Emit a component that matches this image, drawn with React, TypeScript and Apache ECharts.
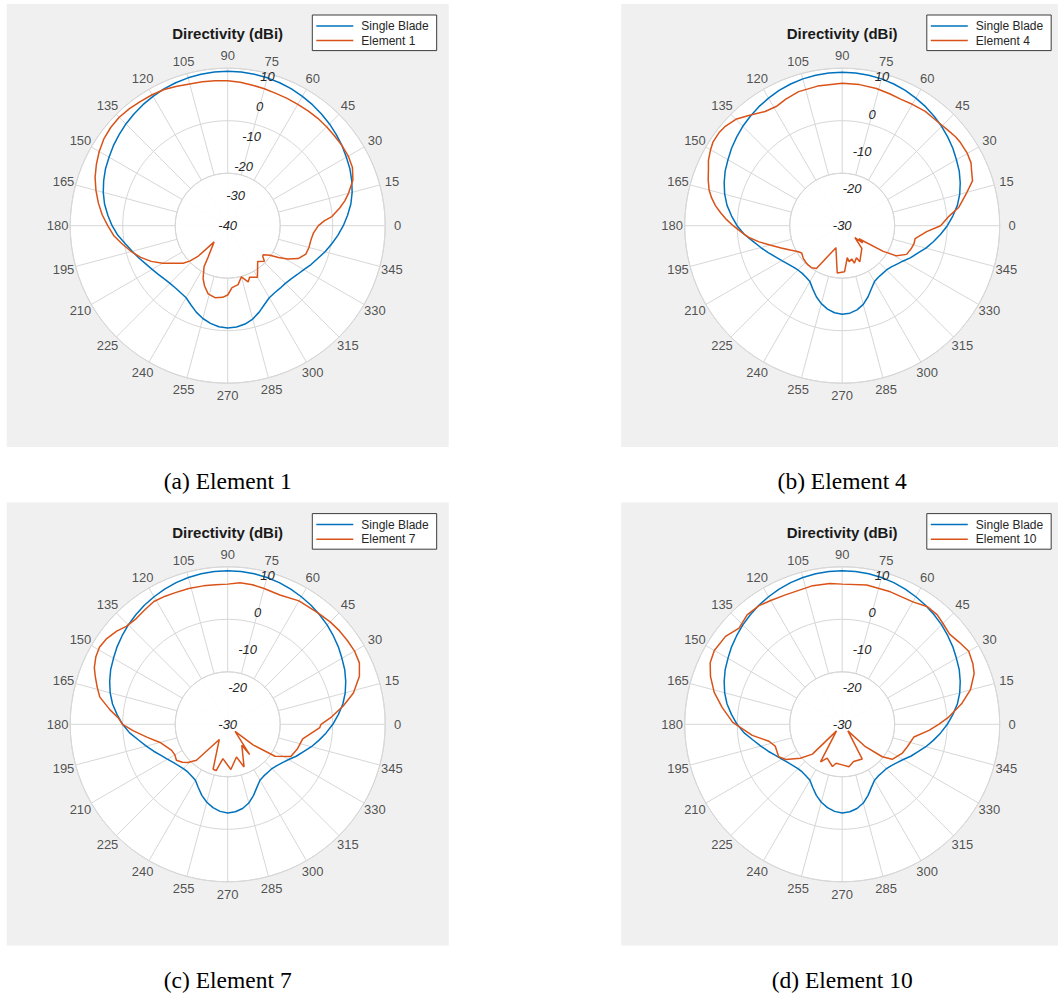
import React, { useEffect, useRef } from "react";
import * as echarts from "echarts";

// ---------- DATA ----------
const angleTicks = [0, 15, 30, 45, 60, 75, 90, 105, 120, 135, 150, 165, 180, 195, 210, 225, 240, 255, 270, 285, 300, 315, 330, 345];

const singleBladeAngles = [0, 5, 10, 15, 20, 25, 30, 35, 40, 45, 50, 55, 60, 65, 70, 75, 80, 85, 90, 95, 100, 105, 110, 115, 120, 125, 130, 135, 140, 145, 150, 155, 160, 165, 170, 175, 180, 185, 190, 195, 200, 205, 210, 215, 220, 225, 230, 235, 240, 245, 250, 255, 260, 265, 270, 275, 280, 285, 290, 295, 300, 305, 310, 315, 320, 325, 330, 335, 340, 345, 350, 355, 360];
const singleBladeDb = [-3.3, -1.8, -0.3, 0.9, 1.9, 2.8, 3.5, 4.3, 5.0, 5.7, 6.3, 6.9, 7.4, 7.9, 8.3, 8.6, 8.8, 8.95, 9.0, 8.95, 8.8, 8.6, 8.3, 7.9, 7.4, 6.9, 6.3, 5.7, 5.0, 4.3, 3.5, 2.8, 1.9, 0.9, -0.3, -1.8, -3.3, -5.0, -7.0, -8.6, -10.0, -11.3, -12.3, -13.1, -13.7, -14.1, -14.2, -14.0, -13.6, -12.3, -10.8, -9.5, -8.5, -7.8, -7.5, -7.7, -8.3, -9.3, -10.8, -12.4, -13.6, -14.0, -14.1, -14.1, -13.7, -13.0, -12.1, -10.8, -9.6, -8.0, -6.5, -4.9, -3.3];

const element1Angles = [0, 3, 5, 9, 12, 15, 20, 25, 30, 35, 40, 45, 50, 55, 60, 65, 70, 75, 80, 85, 90, 95, 100, 105, 110, 115, 120, 125, 130, 135, 140, 145, 150, 155, 160, 165, 170, 175, 180, 185, 190, 195, 200, 205, 210, 215, 220, 223, 226, 230, 238, 240, 245, 249, 254, 260, 266, 270, 274, 280, 285, 290, 293, 300, 310, 316, 319, 321, 325, 328, 331, 335, 340, 345, 350, 355, 360];
const element1Db = [-11.2, -9.2, -6.8, -4.0, -2.0, -0.3, 2.3, 3.7, 4.2, 4.3, 4.3, 4.4, 4.5, 4.5, 4.5, 4.6, 4.7, 5.0, 5.3, 5.7, 6.0, 6.2, 6.4, 6.6, 7.1, 7.7, 8.0, 8.2, 8.5, 8.7, 8.5, 8.0, 7.1, 6.0, 4.8, 3.3, 1.7, 0.0, -1.9, -3.7, -6.1, -8.3, -10.6, -13.2, -16.2, -19.2, -21.5, -23.5, -26.6, -33.3, -28.3, -25.0, -21.5, -19.5, -17.5, -16.8, -17.2, -18.0, -20.3, -21.0, -23.2, -21.0, -22.2, -21.1, -25.2, -23.8, -25.3, -25.4, -23.6, -21.0, -18.2, -15.3, -13.6, -13.3, -13.2, -12.7, -11.2];

const element4Angles = [0, 5, 9, 15, 19, 23, 26, 30, 35, 38, 42, 46, 50, 54, 60, 65, 70, 76, 83, 90, 100, 108, 114, 119, 124, 130, 135, 140, 143, 147, 150, 154, 157, 161, 165, 168, 171, 174, 177, 180, 184, 187, 191, 195, 200, 205, 210, 214, 220, 225, 229, 234, 239, 254, 264, 273, 279, 281, 286, 288, 294, 296, 311, 317, 320, 322, 328, 331, 336, 342, 346, 350, 356, 360];
const element4Db = [-5.0, -2.8, 0.0, 2.8, 5.0, 5.7, 6.4, 6.7, 6.7, 6.6, 6.2, 5.9, 5.8, 5.9, 5.6, 5.4, 5.6, 5.9, 6.1, 6.2, 6.0, 5.8, 5.2, 4.6, 5.0, 6.6, 8.2, 9.0, 9.2, 9.1, 8.6, 7.8, 6.9, 6.0, 5.0, 3.9, 2.6, 1.0, -0.6, -2.3, -4.5, -6.0, -8.5, -11.0, -13.5, -15.4, -16.9, -17.6, -17.1, -16.9, -16.8, -16.8, -17.3, -24.2, -17.9, -18.3, -21.8, -20.7, -21.2, -20.0, -21.1, -19.8, -22.4, -25.6, -23.2, -24.6, -17.7, -14.2, -12.1, -11.5, -11.2, -11.2, -8.5, -5.0];

const element7Angles = [0, 4, 9, 14, 20, 25, 30, 35, 40, 45, 51, 60, 68, 75, 80, 85, 90, 95, 100, 106, 112, 116, 121, 126, 131, 136, 140, 145, 149, 153, 157, 160, 164, 168, 173, 177, 180, 184, 189, 195, 200, 205, 210, 215, 220, 224, 229, 241, 252, 256, 262, 274, 285, 291, 304, 306, 316, 321, 326, 333, 341, 349, 358, 360];
const element7Db = [-6.3, -3.6, -0.3, 2.9, 5.6, 6.9, 7.2, 7.1, 7.0, 6.8, 6.4, 6.2, 5.4, 5.7, 6.0, 6.1, 5.6, 5.6, 5.7, 5.9, 6.0, 6.2, 6.4, 5.9, 5.5, 5.8, 6.8, 7.7, 8.0, 7.6, 6.8, 5.8, 4.5, 3.2, 0.1, -2.3, -3.3, -6.0, -9.2, -12.2, -13.4, -14.3, -14.5, -14.1, -15.0, -16.0, -17.9, -25.6, -18.0, -17.9, -21.2, -18.5, -21.4, -18.4, -23.6, -20.5, -27.4, -21.6, -15.5, -12.0, -11.2, -10.6, -6.6, -6.3];

const element10Angles = [0, 4, 10, 15, 21, 25, 30, 35, 40, 45, 49, 54, 60, 70, 80, 90, 95, 102, 114, 120, 125, 131, 137, 143, 150, 155, 160, 166, 172, 179, 187, 193, 198, 207, 212, 219, 225, 229, 240, 246, 257, 261, 270, 279, 287, 300, 311, 316, 321, 325, 334, 341, 350, 356, 360];
const element10Db = [-5.5, -2.8, 0.9, 3.7, 5.9, 6.6, 7.1, 6.3, 5.6, 6.2, 6.8, 6.9, 5.9, 5.8, 5.9, 5.6, 5.9, 6.0, 5.9, 6.3, 6.8, 6.8, 5.8, 7.1, 7.5, 7.0, 5.6, 3.5, 0.8, -2.2, -7.0, -10.9, -12.1, -11.9, -13.1, -16.3, -19.3, -27.8, -19.0, -20.6, -19.0, -20.0, -19.7, -19.1, -20.1, -19.8, -27.8, -21.8, -16.9, -14.5, -13.1, -12.5, -11.5, -7.9, -5.5];

const panelNames = ["Element 1", "Element 4", "Element 7", "Element 10"];
const panelCaptions = ["(a) Element 1", "(b) Element 4", "(c) Element 7", "(d) Element 10"];
const panelMinDb = [-40, -30, -30, -30];
const maxDb = 10;
const magTickStep = 10;
const titleText = "Directivity (dBi)";
const singleBladeName = "Single Blade";

// ---------- LAYOUT / STYLE ----------
const layout = [
  { cx: 227.7, cy: 225.7 },
  { cx: 842.2, cy: 225.7 },
  { cx: 227.7, cy: 724.3 },
  { cx: 842.2, cy: 724.3 },
];
const elementSeries = [
  { angles: element1Angles, db: element1Db },
  { angles: element4Angles, db: element4Db },
  { angles: element7Angles, db: element7Db },
  { angles: element10Angles, db: element10Db },
];

const R_OUT = 157.5;
const R_IN = 52.5;
const R_MAG = 154;
const R_ANG = 170;
const BLUE = "#0072BD";
const ORANGE = "#D95319";
const GRID = "#d7d7d7";
const TXT = "#262626";
const PANEL_BG = "#f0f0f0";
const SANS = '"Liberation Sans", Arial, Helvetica, sans-serif';
const SERIF = '"Liberation Serif", "Times New Roman", Times, serif';
const LINE_ICON = "path://M0,0H37V1.5H0Z";

function buildOption() {
  const polar: any[] = [];
  const angleAxis: any[] = [];
  const radiusAxis: any[] = [];
  const series: any[] = [];
  const legend: any[] = [];
  const graphics: any[] = [];

  layout.forEach((p, i) => {
    const base = i * 4;
    const center = [p.cx, p.cy];
    const el = elementSeries[i];

    // 0: data polar (white disk + curves)
    polar.push({ center, radius: R_OUT });
    angleAxis.push({
      polarIndex: base, type: "value", min: 0, max: 360, startAngle: 0, clockwise: false, z: 0,
      axisLine: { show: false }, axisTick: { show: false }, axisLabel: { show: false },
      splitLine: { show: false },
      splitArea: { show: true, areaStyle: { color: ["#ffffff", "#ffffff"] } },
    });
    radiusAxis.push({ polarIndex: base, type: "value", min: panelMinDb[i], max: maxDb, show: false });

    // 1: grid polar
    polar.push({ center, radius: [R_IN, R_OUT] });
    angleAxis.push({
      polarIndex: base + 1, type: "value", min: 0, max: 360, interval: 15, startAngle: 0, clockwise: false, z: 1,
      axisLine: { show: true, lineStyle: { color: GRID, width: 1 } },
      axisTick: { show: false }, axisLabel: { show: false },
      splitLine: { show: true, lineStyle: { color: GRID, width: 1 } },
    });
    radiusAxis.push({
      polarIndex: base + 1, type: "value", min: 0, max: 2, interval: 1, z: 1,
      axisLine: { show: false }, axisTick: { show: false }, axisLabel: { show: false },
      splitLine: { show: true, lineStyle: { color: GRID, width: 1 } },
    });

    // 2: magnitude labels polar (axis drawn along 75 deg)
    polar.push({ center, radius: R_MAG });
    angleAxis.push({ polarIndex: base + 2, type: "value", min: 0, max: 360, startAngle: 75, clockwise: false, show: false });
    radiusAxis.push({
      polarIndex: base + 2, type: "value", min: panelMinDb[i], max: maxDb, interval: magTickStep, z: 5,
      axisLine: { show: false }, axisTick: { show: false }, splitLine: { show: false },
      axisLabel: {
        show: true, margin: 0, align: "center", verticalAlign: "middle", rotate: 0,
        fontStyle: "italic", fontSize: 13, color: TXT, fontFamily: SANS,
        showMinLabel: true, showMaxLabel: true,
      },
    });

    // 3: angle labels polar
    polar.push({ center, radius: R_ANG });
    angleAxis.push({ polarIndex: base + 3, type: "value", min: 0, max: 360, startAngle: 0, clockwise: false, show: false });
    radiusAxis.push({ polarIndex: base + 3, type: "value", min: 0, max: 1, show: false });

    series.push({
      type: "line", name: singleBladeName, coordinateSystem: "polar", polarIndex: base,
      data: singleBladeAngles.map((a, k) => [singleBladeDb[k], a]),
      symbol: "none", showSymbol: false, smooth: false, z: 3,
      lineStyle: { color: BLUE, width: 1.5 }, itemStyle: { color: BLUE },
      silent: true,
    });
    series.push({
      type: "line", name: panelNames[i], coordinateSystem: "polar", polarIndex: base,
      data: el.angles.map((a, k) => [el.db[k], a]),
      symbol: "none", showSymbol: false, smooth: false, z: 3,
      lineStyle: { color: ORANGE, width: 1.5 }, itemStyle: { color: ORANGE },
      silent: true,
    });
    series.push({
      type: "scatter", coordinateSystem: "polar", polarIndex: base + 3,
      data: angleTicks.map((a) => [1, a]),
      symbolSize: 1, itemStyle: { color: "transparent" }, silent: true, clip: false, z: 5,
      label: {
        show: true, position: "inside", color: TXT, fontSize: 13, fontFamily: SANS,
        formatter: (q: any) => String(q.value[1]),
      },
    });

    legend.push({
      orient: "vertical", left: p.cx + 84.6, top: p.cy - 210.7,
      data: [
        { name: singleBladeName, icon: LINE_ICON },
        { name: panelNames[i], icon: LINE_ICON },
      ],
      selectedMode: false, symbolKeepAspect: true,
      backgroundColor: "#ffffff", borderColor: "#3c3c3c", borderWidth: 1,
      padding: [5, 8, 4, 4], itemGap: 2.6, itemWidth: 37, itemHeight: 14,
      textStyle: { fontSize: 12, color: TXT, fontFamily: SANS, padding: [0, 0, 0, 3] },
    });

    const bx = p.cx - 221;
    graphics.push({
      type: "rect", z: -10, silent: true,
      shape: { x: bx, y: p.cy - 221.7, width: Math.min(442, 1058 - bx), height: 443 },
      style: { fill: PANEL_BG },
    });
    graphics.push({
      type: "text", z: 10, silent: true,
      style: {
        text: titleText, x: p.cx, y: p.cy - 192,
        fill: "#1a1a1a", fontSize: 15, fontWeight: "bold", fontFamily: SANS,
        textAlign: "center", textVerticalAlign: "middle", align: "center", verticalAlign: "middle",
      },
    });
    graphics.push({
      type: "text", z: 10, silent: true,
      style: {
        text: panelCaptions[i], x: p.cx, y: p.cy + 255.6,
        fill: "#000000", fontSize: 23.5, fontFamily: SERIF,
        textAlign: "center", textVerticalAlign: "middle", align: "center", verticalAlign: "middle",
      },
    });
  });

  return {
    animation: false,
    backgroundColor: "#ffffff",
    textStyle: { fontFamily: SANS },
    polar, angleAxis, radiusAxis, series, legend,
    graphic: { elements: graphics },
  };
}

export default function App() {
  const ref = useRef<HTMLDivElement>(null);
  useEffect(() => {
    if (!ref.current) return;
    const chart = echarts.init(ref.current, null, { renderer: "svg" });
    chart.setOption(buildOption() as any);
    return () => chart.dispose();
  }, []);
  return (
    <div
      ref={ref}
      style={{ position: "absolute", left: 0, top: 0, width: 1058, height: 996 }}
    />
  );
}
